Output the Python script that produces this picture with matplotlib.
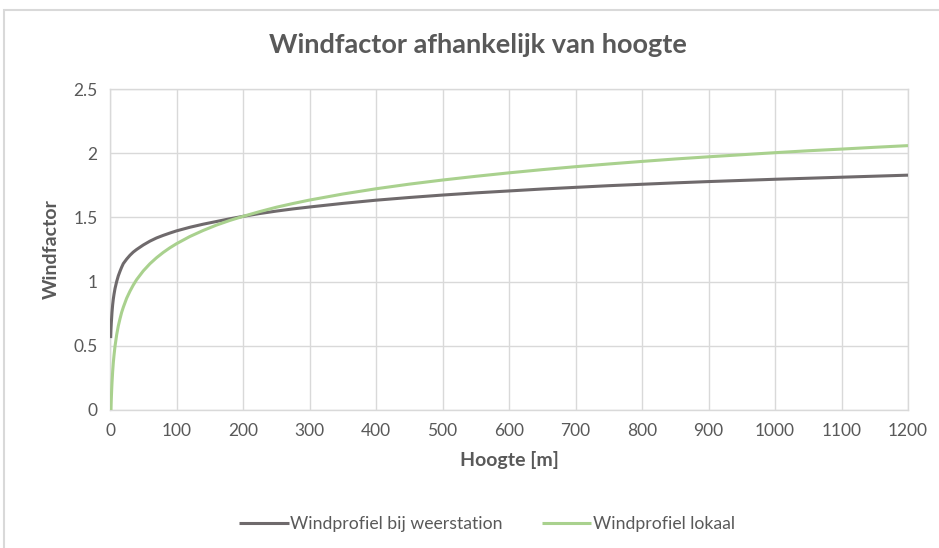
import matplotlib as mlt
mlt.use('Agg')
import matplotlib.pyplot as plt
from matplotlib.patches import Rectangle

plt.rcParams['font.family'] = ['Lato', 'DejaVu Sans']

# hoogte (m) and windfactor
hoogte_station = [1, 1.5, 2, 3, 4, 5, 6, 7.5, 10, 12.5, 15, 17.5, 20, 25, 30, 35, 40, 50,
                  60, 70, 80, 90, 100, 120, 140, 160, 180, 200, 225, 250, 275, 300, 350,
                  400, 450, 500, 550, 600, 650, 700, 750, 800, 850, 900, 950, 1000, 1050,
                  1100, 1150, 1200]
wind_station = [0.56, 0.63, 0.68, 0.76, 0.82, 0.865, 0.90, 0.945, 1.0, 1.045, 1.08, 1.112,
                1.14, 1.175, 1.205, 1.23, 1.25, 1.285, 1.315, 1.34, 1.36, 1.378, 1.395,
                1.423, 1.447, 1.468, 1.489, 1.508, 1.53, 1.549, 1.566, 1.581, 1.609, 1.634,
                1.655, 1.674, 1.691, 1.706, 1.721, 1.734, 1.747, 1.758, 1.769, 1.779,
                1.788, 1.797, 1.805, 1.813, 1.821, 1.829]

hoogte_lokaal = [1.5, 1.75, 2, 2.5, 3, 4, 5, 6, 7.5, 10, 12.5, 15, 17.5, 20, 25, 30, 35,
                 40, 50, 60, 70, 80, 90, 100, 120, 140, 160, 180, 200, 225, 250, 275, 300,
                 350, 400, 450, 500, 550, 600, 650, 700, 750, 800, 850, 900, 950, 1000,
                 1050, 1100, 1150, 1200]
wind_lokaal = [0.0, 0.05, 0.09, 0.155, 0.21, 0.30, 0.37, 0.425, 0.495, 0.585, 0.655, 0.71,
               0.76, 0.80, 0.87, 0.925, 0.973, 1.015, 1.083, 1.139, 1.186, 1.227, 1.263,
               1.295, 1.351, 1.398, 1.44, 1.476, 1.508, 1.545, 1.579, 1.608, 1.635, 1.682,
               1.723, 1.759, 1.791, 1.82, 1.847, 1.872, 1.895, 1.916, 1.936, 1.955, 1.972,
               1.988, 2.004, 2.019, 2.032, 2.046, 2.059]

xticks = list(range(0, 1201, 100))
yticks = [0, 0.5, 1, 1.5, 2, 2.5]
ytick_labels = ['0', '0.5', '1', '1.5', '2', '2.5']

txt = '#595959'
grid = '#d9d9d9'

fig = plt.figure(figsize=(9.39, 5.48), dpi=100)
ax = fig.add_axes([110/939, 1-410/548, (908-110)/939, (410-89)/548])

ax.plot(hoogte_station, wind_station, color='#6f6a6c', lw=2.2, label='Windprofiel bij weerstation',
        solid_capstyle='butt', solid_joinstyle='round', zorder=3)
ax.plot(hoogte_lokaal, wind_lokaal, color='#a9d18e', lw=2.2, label='Windprofiel lokaal',
        solid_capstyle='butt', solid_joinstyle='round', zorder=3)

ax.set_xlim(0, 1200)
ax.set_ylim(0, 2.5)
ax.set_xticks(xticks)
ax.set_yticks(yticks)
ax.set_yticklabels(ytick_labels)
ax.grid(True, color=grid, lw=1.0)
ax.set_axisbelow(True)
for s in ax.spines.values():
    s.set_color(grid)
    s.set_linewidth(1.0)
ax.tick_params(length=0, colors=txt, labelsize=12.5, pad=9)

ax.set_xlabel('Hoogte [m]', fontsize=14, fontweight='bold', color=txt, labelpad=9)
ax.set_ylabel('Windfactor', fontsize=14, fontweight='bold', color=txt, labelpad=10)
fig.text(478/939, 1-45/548, 'Windfactor afhankelijk van hoogte', ha='center', va='center',
         fontsize=19.5, fontweight='bold', color=txt)

leg = fig.legend(loc='center', bbox_to_anchor=(487/939, 1-524/548), ncol=2, frameon=False,
                 fontsize=12.7, handlelength=2.8, handletextpad=0.1, columnspacing=2.2)
for t in leg.get_texts():
    t.set_color(txt)

fig.patches.append(Rectangle((4/939, -0.1), 1.2, (548-10)/548 + 0.1, transform=fig.transFigure,
                             facecolor='none', edgecolor=grid, lw=1.5))

fig.savefig('out.png', dpi=100)
